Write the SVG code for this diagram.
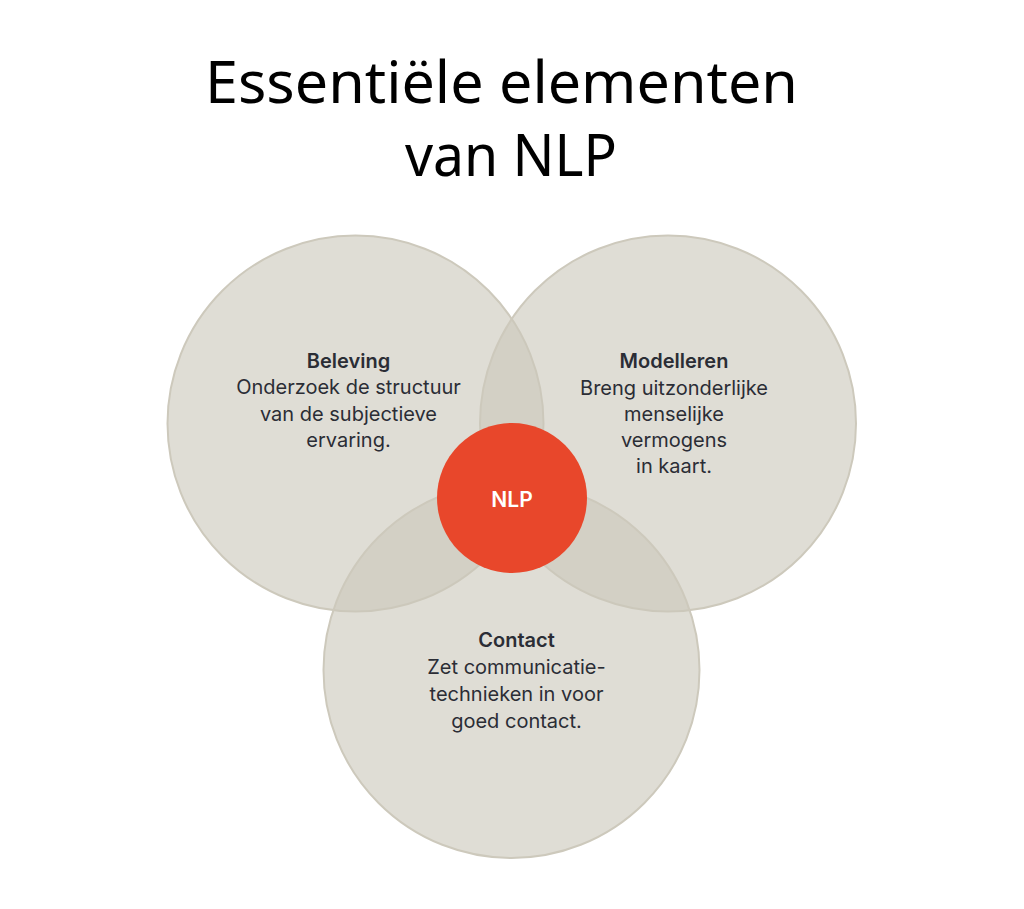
<svg xmlns="http://www.w3.org/2000/svg" width="1024" height="909" viewBox="0 0 1024 909">
<style>
.title{font-family:"Noto Sans","Open Sans","DejaVu Sans",sans-serif;font-size:58px;fill:#000;text-anchor:middle}
.ring{fill:rgb(204,200,187);fill-opacity:0.62;stroke:#cdc9bc;stroke-width:2}
.head{font-family:Inter,"Liberation Sans",sans-serif;font-weight:600;font-size:20px;fill:#2b2d35;text-anchor:middle}
.body{font-family:Inter,"Liberation Sans",sans-serif;font-weight:400;font-size:20px;fill:#2b2d35;text-anchor:middle}
.core{fill:#e8472b}
.coretext{font-family:Inter,"Liberation Sans",sans-serif;font-weight:600;font-size:21px;fill:#ffffff;text-anchor:middle}
</style>
<rect width="1024" height="909" fill="#ffffff"/>
<g id="title">
<text class="title" x="501.5" y="103" textLength="593" lengthAdjust="spacingAndGlyphs">Essentiële elementen</text>
<text class="title" x="511" y="176" textLength="212" lengthAdjust="spacingAndGlyphs">van NLP</text>
</g>
<g id="connectors"></g>
<g id="beleving">
<circle class="ring" cx="355.5" cy="423.5" r="188"/>
<text class="head" x="348.5" y="367.5">Beleving</text>
<text class="body" x="348.5" y="394">Onderzoek de structuur</text>
<text class="body" x="348.5" y="420.5">van de subjectieve</text>
<text class="body" x="348.5" y="447">ervaring.</text>
</g>
<g id="modelleren">
<circle class="ring" cx="668" cy="423.5" r="188"/>
<text class="head" x="674" y="368">Modelleren</text>
<text class="body" x="674" y="394.5">Breng uitzonderlijke</text>
<text class="body" x="674" y="421">menselijke</text>
<text class="body" x="674" y="447">vermogens</text>
<text class="body" x="674" y="473">in kaart.</text>
</g>
<g id="contact">
<circle class="ring" cx="511.5" cy="670" r="188"/>
<text class="head" x="516.5" y="647">Contact</text>
<text class="body" x="516.5" y="674">Zet communicatie-</text>
<text class="body" x="516.5" y="701">technieken in voor</text>
<text class="body" x="516.5" y="727.5">goed contact.</text>
</g>
<g id="nlp">
<circle class="core" cx="512" cy="498" r="75"/>
<text class="coretext" x="512" y="506.5">NLP</text>
</g>
</svg>
